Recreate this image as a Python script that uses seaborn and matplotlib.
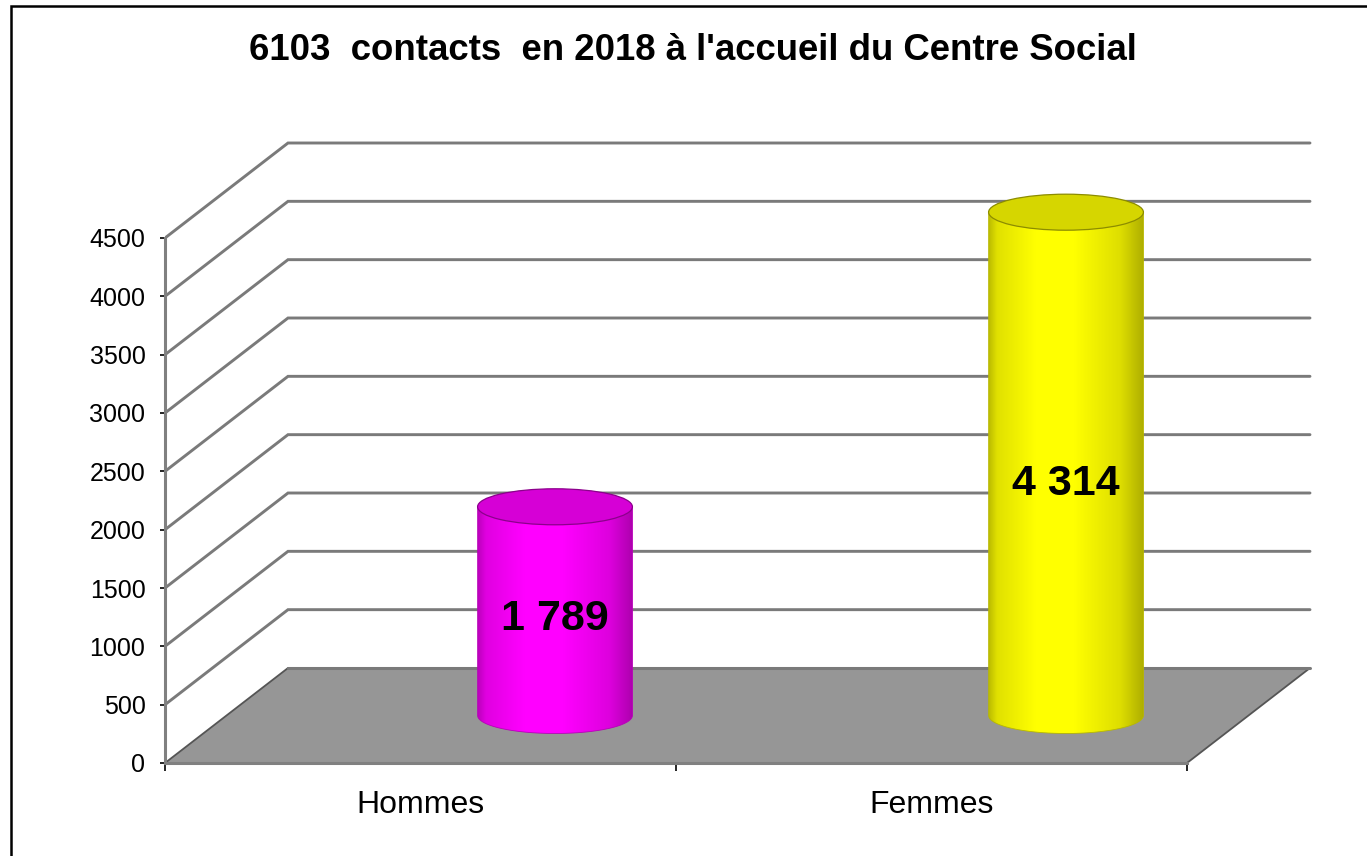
import numpy as np
import matplotlib
matplotlib.use("Agg")
import matplotlib.pyplot as plt
import matplotlib.colors as mcolors
from matplotlib.patches import Polygon, Ellipse, Rectangle, PathPatch
from matplotlib.path import Path
import seaborn as sns
import pandas as pd

# ---------------- data ----------------
title = "6103  contacts  en 2018 à l'accueil du Centre Social"
categories = ["Hommes", "Femmes"]
values = [1789, 4314]
value_labels = ["1 789", "4 314"]
bar_colors = ["#FF00FF", "#FFFF00"]
y_ticks = [0, 500, 1000, 1500, 2000, 2500, 3000, 3500, 4000, 4500]

# ---------------- style ----------------
sns.set_theme(style="white")
plt.rcParams['font.family'] = ['Liberation Sans', 'DejaVu Sans']

W, H = 1367, 856
DPI = 100
fig = plt.figure(figsize=(W / DPI, H / DPI), dpi=DPI)

# front plane of the chart in pixels
front_left, front_right = 165, 1187
front_bottom, front_top = 763, 238           # pixel rows of value 0 and 4500
ymax_val = y_ticks[-1]
px_per_cat = (front_right - front_left) / 2.0
px_per_val = (front_bottom - front_top) / ymax_val

# axes extends beyond the front frame to hold the 3D depth
ax_right_px, ax_top_px = 1335, 125
ax = fig.add_axes([front_left / W, (H - front_bottom) / H,
                   (ax_right_px - front_left) / W, (front_bottom - ax_top_px) / H])

df = pd.DataFrame({"cat": categories, "val": values})
sns.barplot(data=df, x="cat", y="val", ax=ax, width=0.303,
            palette=bar_colors, hue="cat", legend=False)

xlim = (-0.5, -0.5 + (ax_right_px - front_left) / px_per_cat)
ylim = (0, (front_bottom - ax_top_px) / px_per_val)

# depth offset (back wall) in data units
DX = 123 / px_per_cat
DY = 95 / px_per_val
CYL_EXTRA_X = 73 / px_per_cat
RY = 18 / px_per_val


def proj(x, v, d):
    return (x + DX * d, v + DY * d)


# floor
floor = Polygon([proj(-0.5, 0, 0), proj(1.5, 0, 0), proj(1.5, 0, 1), proj(-0.5, 0, 1)],
                closed=True, facecolor="#969696", edgecolor="#555555", lw=1.3, zorder=1)
ax.add_patch(floor)
bx, by = zip(proj(-0.5, 0, 1), proj(1.5, 0, 1))
ax.plot(bx, by, color="#7a7a7a", lw=2.2, zorder=1.2)

# walls gridlines
for v in y_ticks[1:]:
    p0, p1, p2 = proj(-0.5, v, 0), proj(-0.5, v, 1), proj(1.5, v, 1)
    ax.plot([p0[0], p1[0], p2[0]], [p0[1], p1[1], p2[1]],
            color="#7a7a7a", lw=2.1, zorder=1.5, solid_joinstyle="miter")


def shade(color, f):
    r, g, b = mcolors.to_rgb(color)
    return (r * f, g * f, b * f)


# cylinders built from seaborn's bars
bars = list(ax.patches)
bars = [b for b in bars if isinstance(b, Rectangle) and b.get_height() > 0]
for i, bar in enumerate(bars):
    base = bar_colors[i]
    hw = bar.get_width() / 2
    cx0 = bar.get_x() + hw
    val = bar.get_height()
    bar.set_visible(False)
    cx, yb = proj(cx0, 0, 0.5)
    cx += CYL_EXTRA_X
    yt = yb + val

    # body path: left top -> left bottom -> lower half ellipse -> right top
    th = np.linspace(np.pi, 2 * np.pi, 60)
    ex = cx + hw * np.cos(th)
    ey = yb + RY * np.sin(th)
    verts = [(cx - hw, yt)] + list(zip(ex, ey)) + [(cx + hw, yt), (cx - hw, yt)]
    codes = [Path.MOVETO] + [Path.LINETO] * (len(verts) - 2) + [Path.CLOSEPOLY]
    body = PathPatch(Path(verts, codes), facecolor="none",
                     edgecolor=shade(base, 0.72), lw=0.6, zorder=3.2)
    ax.add_patch(body)

    t = np.linspace(0, 1, 256)
    f = np.interp(t, [0, 0.05, 0.3, 0.55, 0.85, 1.0], [0.74, 0.88, 1.0, 1.0, 0.87, 0.68])
    rgb = np.array(mcolors.to_rgb(base))
    grad = (f[:, None] * rgb[None, :])[None, :, :]
    grad = np.clip(grad, 0, 1)
    im = ax.imshow(grad, extent=[cx - hw, cx + hw, yb - RY, yt], aspect="auto",
                   origin="lower", zorder=3, interpolation="bilinear")
    im.set_clip_path(body)

    top = Ellipse((cx, yt), 2 * hw, 2 * RY, facecolor=shade(base, 0.84),
                  edgecolor=shade(base, 0.55), lw=0.9, zorder=3.5)
    ax.add_patch(top)

    ax.text(cx, yb + val * 0.46, value_labels[i], ha="center", va="center",
            fontsize=31, fontweight="bold", color="black", zorder=4)

ax.set_xlim(*xlim)
ax.set_ylim(*ylim)

# axes / ticks
for s in ["top", "right"]:
    ax.spines[s].set_visible(False)
ax.spines["left"].set_bounds(0, ymax_val)
ax.spines["bottom"].set_bounds(-0.5, 1.5)
for s in ["left", "bottom"]:
    ax.spines[s].set_color("#808080")
    ax.spines[s].set_linewidth(2.2)
    ax.spines[s].set_zorder(2)

ax.set_yticks(y_ticks)
ax.set_yticklabels([str(v) for v in y_ticks])
ax.set_xticks([0, 1])
ax.set_xticklabels(categories)
ax.set_xticks([-0.5, 0.5, 1.5], minor=True)
ax.tick_params(axis="y", which="major", left=True, length=3.6, width=1.2,
               color="black", direction="out", labelsize=18, pad=10.5, labelcolor="black")
ax.tick_params(axis="x", which="major", bottom=True, length=0, labelsize=23,
               pad=19.5, labelcolor="black")
ax.tick_params(axis="x", which="minor", bottom=True, length=6, width=1.2,
               color="black", direction="out")
ax.set_xlabel("")
ax.set_ylabel("")
ax.set_facecolor("none")
ax.grid(False)

fig.text(693 / W, 1 - 50 / H, title, ha="center", va="center",
         fontsize=26.4, fontweight="bold", color="black")

fig.add_artist(Rectangle((11 / W, -0.05), 1.1, 1 - 6 / H + 0.05,
                         transform=fig.transFigure, fill=False, lw=1.8,
                         edgecolor="black"))

fig.savefig("out.png", dpi=DPI, facecolor="white")
